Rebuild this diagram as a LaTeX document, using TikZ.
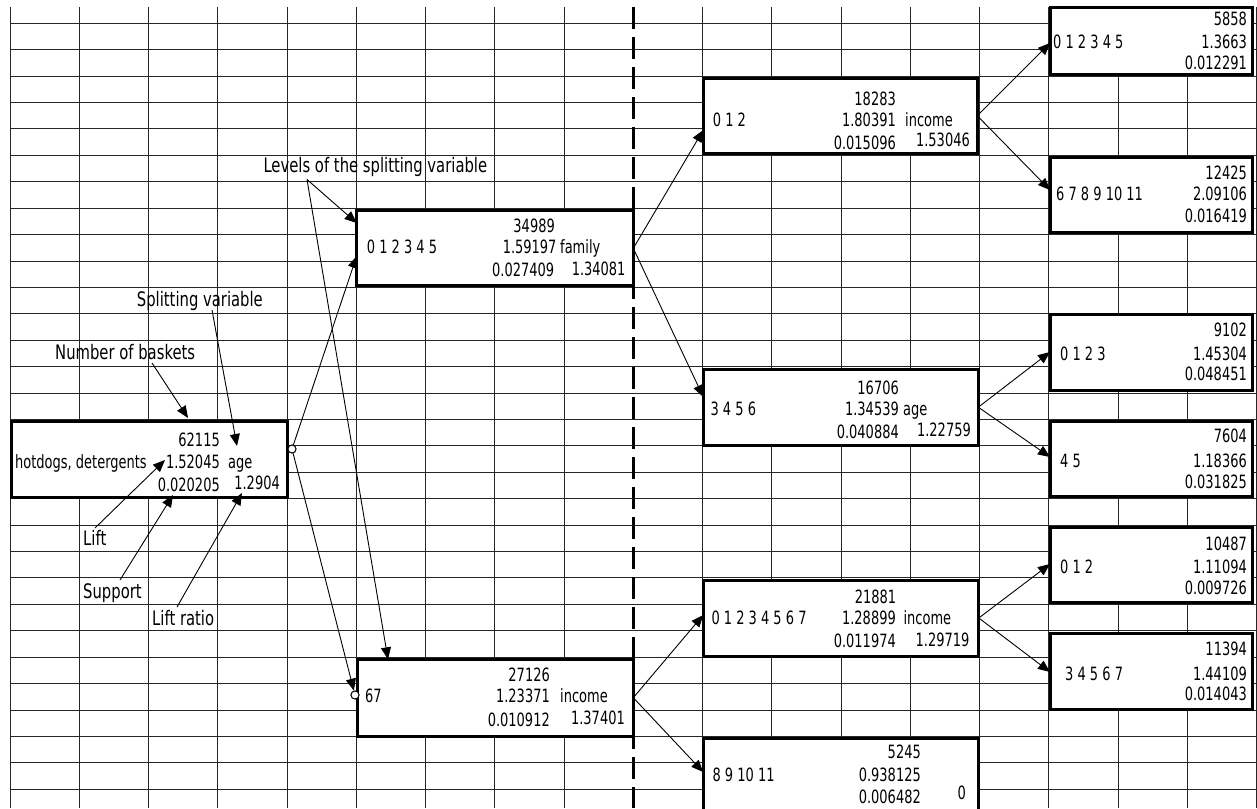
\documentclass[tikz,border=0pt]{standalone}
\usepackage{fontspec}
\newfontfamily\boxfont[FakeStretch=0.71]{DejaVu Sans}
\newfontfamily\labfont[FakeStretch=0.74]{DejaVu Sans}
\usetikzlibrary{arrows.meta}
\begin{document}
\begin{tikzpicture}[x=1pt,y=-1pt,
  gridline/.style={draw=black!85, line width=0.9pt},
  sepline/.style={draw=black, line width=3pt, dash pattern=on 22pt off 8pt},
  box/.style={draw=black, fill=white, line width=3pt, rectangle, inner sep=0pt, outer sep=0pt},
  bt/.style={inner sep=0pt, font=\boxfont\fontsize{18.3}{20}\selectfont},
  lt/.style={inner sep=0pt, font=\labfont\fontsize{20}{22}\selectfont},
  arr/.style={draw=black, line width=0.9pt, -{Triangle[length=12pt,width=10pt]}},
  dot/.style={circle, draw=black, fill=white, line width=0.9pt, inner sep=0pt, minimum size=8pt}]

\useasboundingbox (0,0) rectangle (1257,808);
\fill[white] (0,0) rectangle (1257,808);

% grid
\foreach \i in {0,...,8,10,11,...,18}
  \draw[gridline] ({10+69.25*\i},7) -- ({10+69.25*\i},808);
\foreach \j in {0,...,29}
  \draw[gridline] (10,{23.3+26.41*\j}) -- (1256.5,{23.3+26.41*\j});

% dashed separator
\draw[sepline] (633.25,7) -- (633.25,808);

% boxes
\node[box, minimum width=276pt, minimum height=76pt] (root) at (149,459.5) {};
\node[box, minimum width=276.6pt, minimum height=75.3pt] (fam) at (495,248.3) {};
\node[box, minimum width=275.6pt, minimum height=76.7pt] (inc) at (495.5,697.7) {};
\node[box, minimum width=274pt, minimum height=75pt] (b18) at (840.3,115.8) {};
\node[box, minimum width=275pt, minimum height=75.7pt] (b16) at (840.8,407.2) {};
\node[box, minimum width=275.6pt, minimum height=76pt] (b21) at (841,618) {};
\node[box, minimum width=275.6pt, minimum height=77pt] (b52) at (841,777) {};
\node[box, minimum width=202pt, minimum height=66.7pt] (b58) at (1151,40.7) {};
\node[box, minimum width=202pt, minimum height=75pt] (b124) at (1151,195.2) {};
\node[box, minimum width=202pt, minimum height=76.5pt] (b91) at (1151,352.7) {};
\node[box, minimum width=202pt, minimum height=75pt] (b76) at (1151,459.2) {};
\node[box, minimum width=202pt, minimum height=75.4pt] (b104) at (1151,565) {};
\node[box, minimum width=202pt, minimum height=76pt] (b113) at (1151,671.3) {};

% connector end points
\coordinate (lvA) at (307,179.5);
\coordinate (famInA) at (356.7,223);
\coordinate (famInB) at (356.7,256);
\coordinate (incTop) at (388,659.3);
\coordinate (b18In) at (703.3,130);
\coordinate (b16In) at (703.3,397);
\coordinate (b21In) at (703.2,615);
\coordinate (b52In) at (703.2,772);
\coordinate (b58In) at (1050,43);
\coordinate (b124In) at (1050,190);
\coordinate (b91In) at (1050,352);
\coordinate (b76In) at (1050,457);
\coordinate (b104In) at (1050,564);
\coordinate (b113In) at (1050,672);
\coordinate (nbS) at (152,363);   \coordinate (nbE) at (188,418);
\coordinate (svS) at (212,310);   \coordinate (svE) at (237,446);
\coordinate (lfS) at (95,528);    \coordinate (lfE) at (165,460);
\coordinate (spS) at (120,580);   \coordinate (spE) at (173,495);
\coordinate (lrS) at (177,607);   \coordinate (lrE) at (242,493);

% split dots
\node[dot] (rc) at (292,449) {};
\node[dot] (ic) at (355,695) {};

% tree connectors
\draw[arr] (rc) -- (famInB);
\draw[arr] (rc) -- (ic);
\draw[arr] (lvA) -- (famInA);
\draw[arr] (lvA) -- (incTop);
\draw[arr] (fam.east) -- (b18In);
\draw[arr] (fam.east) -- (b16In);
\draw[arr] (inc.east) -- (b21In);
\draw[arr] (inc.east) -- (b52In);
\draw[arr] (b18.east) -- (b58In);
\draw[arr] (b18.east) -- (b124In);
\draw[arr] (b16.east) -- (b91In);
\draw[arr] (b16.east) -- (b76In);
\draw[arr] (b21.east) -- (b104In);
\draw[arr] (b21.east) -- (b113In);

% annotation connectors
\draw[arr] (nbS) -- (nbE);
\draw[arr] (svS) -- (svE);
\draw[arr] (lfS) -- (lfE);
\draw[arr] (spS) -- (spE);
\draw[arr] (lrS) -- (lrE);

\node[dot] (rc2) at (rc) {};
\node[dot] (ic2) at (ic) {};

% root texts
\node[bt,anchor=base east] (rootN) at (220,446.6) {62115};
\node[bt,anchor=base west] (rootL) at (15,468.3) {hotdogs, detergents};
\node[bt,anchor=base east] (rootLift) at (220,468.3) {1.52045};
\node[bt,anchor=base west] (rootVar) at (228,468.3) {age};
\node[bt,anchor=base east] (rootSup) at (220,491.6) {0.020205};
\node[bt,anchor=base east] (rootRat) at (280,489.3) {1.2904};

% family box
\node[bt,anchor=base east] (famN) at (555,232.7) {34989};
\node[bt,anchor=base west] (famL) at (366.7,253.3) {0 1 2 3 4 5};
\node[bt,anchor=base east] (famLift) at (556.7,253.3) {1.59197};
\node[bt,anchor=base west] (famVar) at (560,253.3) {family};
\node[bt,anchor=base east] (famSup) at (554.3,276.7) {0.027409};
\node[bt,anchor=base east] (famRat) at (625.7,275) {1.34081};

% income box (27126)
\node[bt,anchor=base east] (incN) at (550,681.7) {27126};
\node[bt,anchor=base west] (incL) at (365,702) {67};
\node[bt,anchor=base east] (incLift) at (550,702.5) {1.23371};
\node[bt,anchor=base west] (incVar) at (560,702) {income};
\node[bt,anchor=base east] (incSup) at (550,726) {0.010912};
\node[bt,anchor=base east] (incRat) at (625,724.3) {1.37401};

% 18283
\node[bt,anchor=base east] (b18N) at (896,105) {18283};
\node[bt,anchor=base west] (b18L) at (712.7,126.7) {0 1 2};
\node[bt,anchor=base east] (b18Lift) at (896,126.7) {1.80391};
\node[bt,anchor=base west] (b18Var) at (905,126.7) {income};
\node[bt,anchor=base east] (b18Sup) at (896,149) {0.015096};
\node[bt,anchor=base east] (b18Rat) at (970,146.7) {1.53046};

% 16706
\node[bt,anchor=base east] (b16N) at (899,394) {16706};
\node[bt,anchor=base west] (b16L) at (710.4,415) {3 4 5 6};
\node[bt,anchor=base east] (b16Lift) at (899,415) {1.34539};
\node[bt,anchor=base west] (b16Var) at (903,415) {age};
\node[bt,anchor=base east] (b16Sup) at (899,438.3) {0.040884};
\node[bt,anchor=base east] (b16Rat) at (971,436) {1.22759};

% 21881
\node[bt,anchor=base east] (b21N) at (896.4,603.3) {21881};
\node[bt,anchor=base west] (b21L) at (711.3,624.3) {0 1 2 3 4 5 6 7};
\node[bt,anchor=base east] (b21Lift) at (896,624.3) {1.28899};
\node[bt,anchor=base west] (b21Var) at (903.4,624.3) {income};
\node[bt,anchor=base east] (b21Sup) at (896,647.3) {0.011974};
\node[bt,anchor=base east] (b21Rat) at (969.6,646.7) {1.29719};

% 5245
\node[bt,anchor=base east] (b52N) at (921,758.3) {5245};
\node[bt,anchor=base west] (b52L) at (712.4,781.7) {8 9 10 11};
\node[bt,anchor=base east] (b52Lift) at (921,781.7) {0.938125};
\node[bt,anchor=base east] (b52Sup) at (921,803.3) {0.006482};
\node[bt,anchor=base east] (b52Rat) at (966,799.3) {0};

% right column
\node[bt,anchor=base east] (b58N) at (1247,26) {5858};
\node[bt,anchor=base west] (b58L) at (1053,48.3) {0 1 2 3 4 5};
\node[bt,anchor=base east] (b58Lift) at (1247,48.3) {1.3663};
\node[bt,anchor=base east] (b58Sup) at (1247,69.3) {0.012291};

\node[bt,anchor=base east] (b124N) at (1247,179.3) {12425};
\node[bt,anchor=base west] (b124L) at (1056,200) {6 7 8 9 10 11};
\node[bt,anchor=base east] (b124Lift) at (1247,200) {2.09106};
\node[bt,anchor=base east] (b124Sup) at (1247,222.7) {0.016419};

\node[bt,anchor=base east] (b91N) at (1247,336.7) {9102};
\node[bt,anchor=base west] (b91L) at (1060,360) {0 1 2 3};
\node[bt,anchor=base east] (b91Lift) at (1247,360) {1.45304};
\node[bt,anchor=base east] (b91Sup) at (1247,380.5) {0.048451};

\node[bt,anchor=base east] (b76N) at (1247,442.7) {7604};
\node[bt,anchor=base west] (b76L) at (1060,467.3) {4 5};
\node[bt,anchor=base east] (b76Lift) at (1247,467.3) {1.18366};
\node[bt,anchor=base east] (b76Sup) at (1247,488.5) {0.031825};

\node[bt,anchor=base east] (b104N) at (1247,550) {10487};
\node[bt,anchor=base west] (b104L) at (1060,573.3) {0 1 2};
\node[bt,anchor=base east] (b104Lift) at (1247,573.3) {1.11094};
\node[bt,anchor=base east] (b104Sup) at (1247,594.5) {0.009726};

\node[bt,anchor=base east] (b113N) at (1247,655) {11394};
\node[bt,anchor=base west] (b113L) at (1065,680) {3 4 5 6 7};
\node[bt,anchor=base east] (b113Lift) at (1247,680) {1.44109};
\node[bt,anchor=base east] (b113Sup) at (1247,700.5) {0.014043};

% annotation labels
\node[lt,anchor=base west] (lvl) at (263.3,172.7) {Levels of the splitting variable};
\node[lt,anchor=base west] (spv) at (136.7,306) {Splitting variable};
\node[lt,anchor=base west] (nob) at (55,359.3) {Number of baskets};
\node[lt,anchor=base west] (lft) at (83,545.7) {Lift};
\node[lt,anchor=base west] (sup) at (83,598.3) {Support};
\node[lt,anchor=base west] (lra) at (152,625) {Lift ratio};
\end{tikzpicture}
\end{document}
